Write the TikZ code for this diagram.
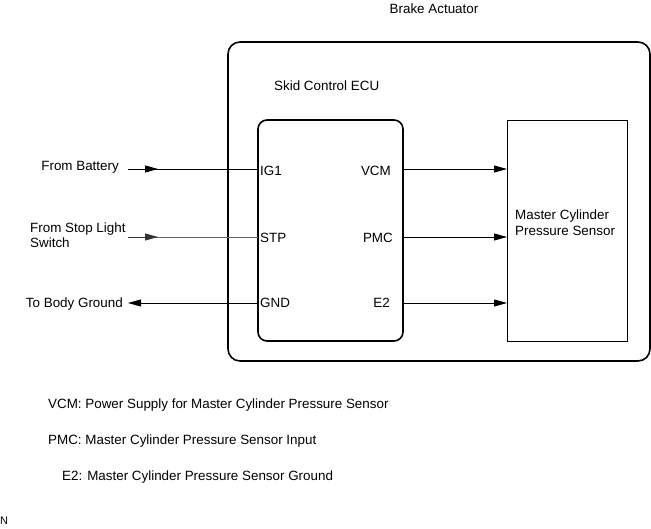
\documentclass[tikz,border=0pt]{standalone}
\usepackage{fontspec}
\setmainfont{Liberation Sans}
\usetikzlibrary{arrows.meta}
\begin{document}
\begin{tikzpicture}[x=1pt,y=-1pt,
  lbl/.style={font=\fontsize{13.4}{15.5}\selectfont, inner sep=0pt},
  wire/.style={line width=0.9pt},
  tip/.style={-{Triangle[length=13pt,width=7pt]}},
  bigbox/.style={line width=1.6pt, rounded corners=12pt},
]
\useasboundingbox (0,0) rectangle (651,529);
% boxes
\draw[bigbox] (228,42) rectangle (650,361);
\draw[line width=1.6pt, rounded corners=9pt] (258,120) rectangle (403,341);
\node[draw, line width=1pt, minimum width=120pt, minimum height=221pt, anchor=north west, inner sep=0pt] (sensor) at (507,120) {};
\node[lbl, anchor=north west, align=left] (sensortxt) at (515,210) {Master Cylinder\\Pressure Sensor};
\node[lbl] (ba) at (434,9) {Brake Actuator};
\node[lbl, anchor=west] (ecu) at (274,86) {Skid Control ECU};
% pins
\node[lbl, anchor=west] (ig1) at (260,171) {IG1};
\node[lbl, anchor=west] (stp) at (260,238) {STP};
\node[lbl, anchor=west] (gnd) at (260,303) {GND};
\node[lbl, anchor=east] (vcm) at (391,171) {VCM};
\node[lbl, anchor=east] (pmc) at (393,238) {PMC};
\node[lbl, anchor=east] (e2) at (390,303) {E2};
% pin coordinates
\coordinate (ig1p) at (258,169);
\coordinate (stpp) at (258,237);
\coordinate (gndp) at (258,303);
\coordinate (vcmp) at (403,169);
\coordinate (pmcp) at (403,237);
\coordinate (e2p) at (403,303);
\coordinate (s1) at (507,169);
\coordinate (s2) at (507,237);
\coordinate (s3) at (507,303);
\coordinate (bat) at (128,169);
\coordinate (sw) at (128,237);
\coordinate (gr) at (128,303);
% left labels
\node[lbl, anchor=east] (fb) at (119,167) {From Battery};
\node[lbl, anchor=west, align=left] (fs) at (30,235) {From Stop Light\\Switch};
\node[lbl, anchor=east] (tb) at (123,304) {To Body Ground};
% wires
\draw[wire] (bat) -- (ig1p);
\draw[wire, tip] (bat) -- ++(30,0);
\draw[wire, black!60] (sw) -- (stpp);
\draw[wire, tip, black!80] (sw) -- ++(30,0);
\draw[wire, tip] (gndp) -- (gr);
\draw[wire, tip] (vcmp) -- (s1);
\draw[wire, tip] (pmcp) -- (s2);
\draw[wire, tip] (e2p) -- (s3);
% legend
\node[lbl, anchor=west] (l1) at (48,405) {VCM: Power Supply for Master Cylinder Pressure Sensor};
\node[lbl, anchor=west] (l2) at (48,441) {PMC: Master Cylinder Pressure Sensor Input};
\node[lbl, anchor=west] (l3) at (62,477) {E2: Master Cylinder Pressure Sensor Ground};
\node[lbl, anchor=west, font=\fontsize{11}{12}\selectfont] (n) at (0,521) {N};
\end{tikzpicture}
\end{document}
